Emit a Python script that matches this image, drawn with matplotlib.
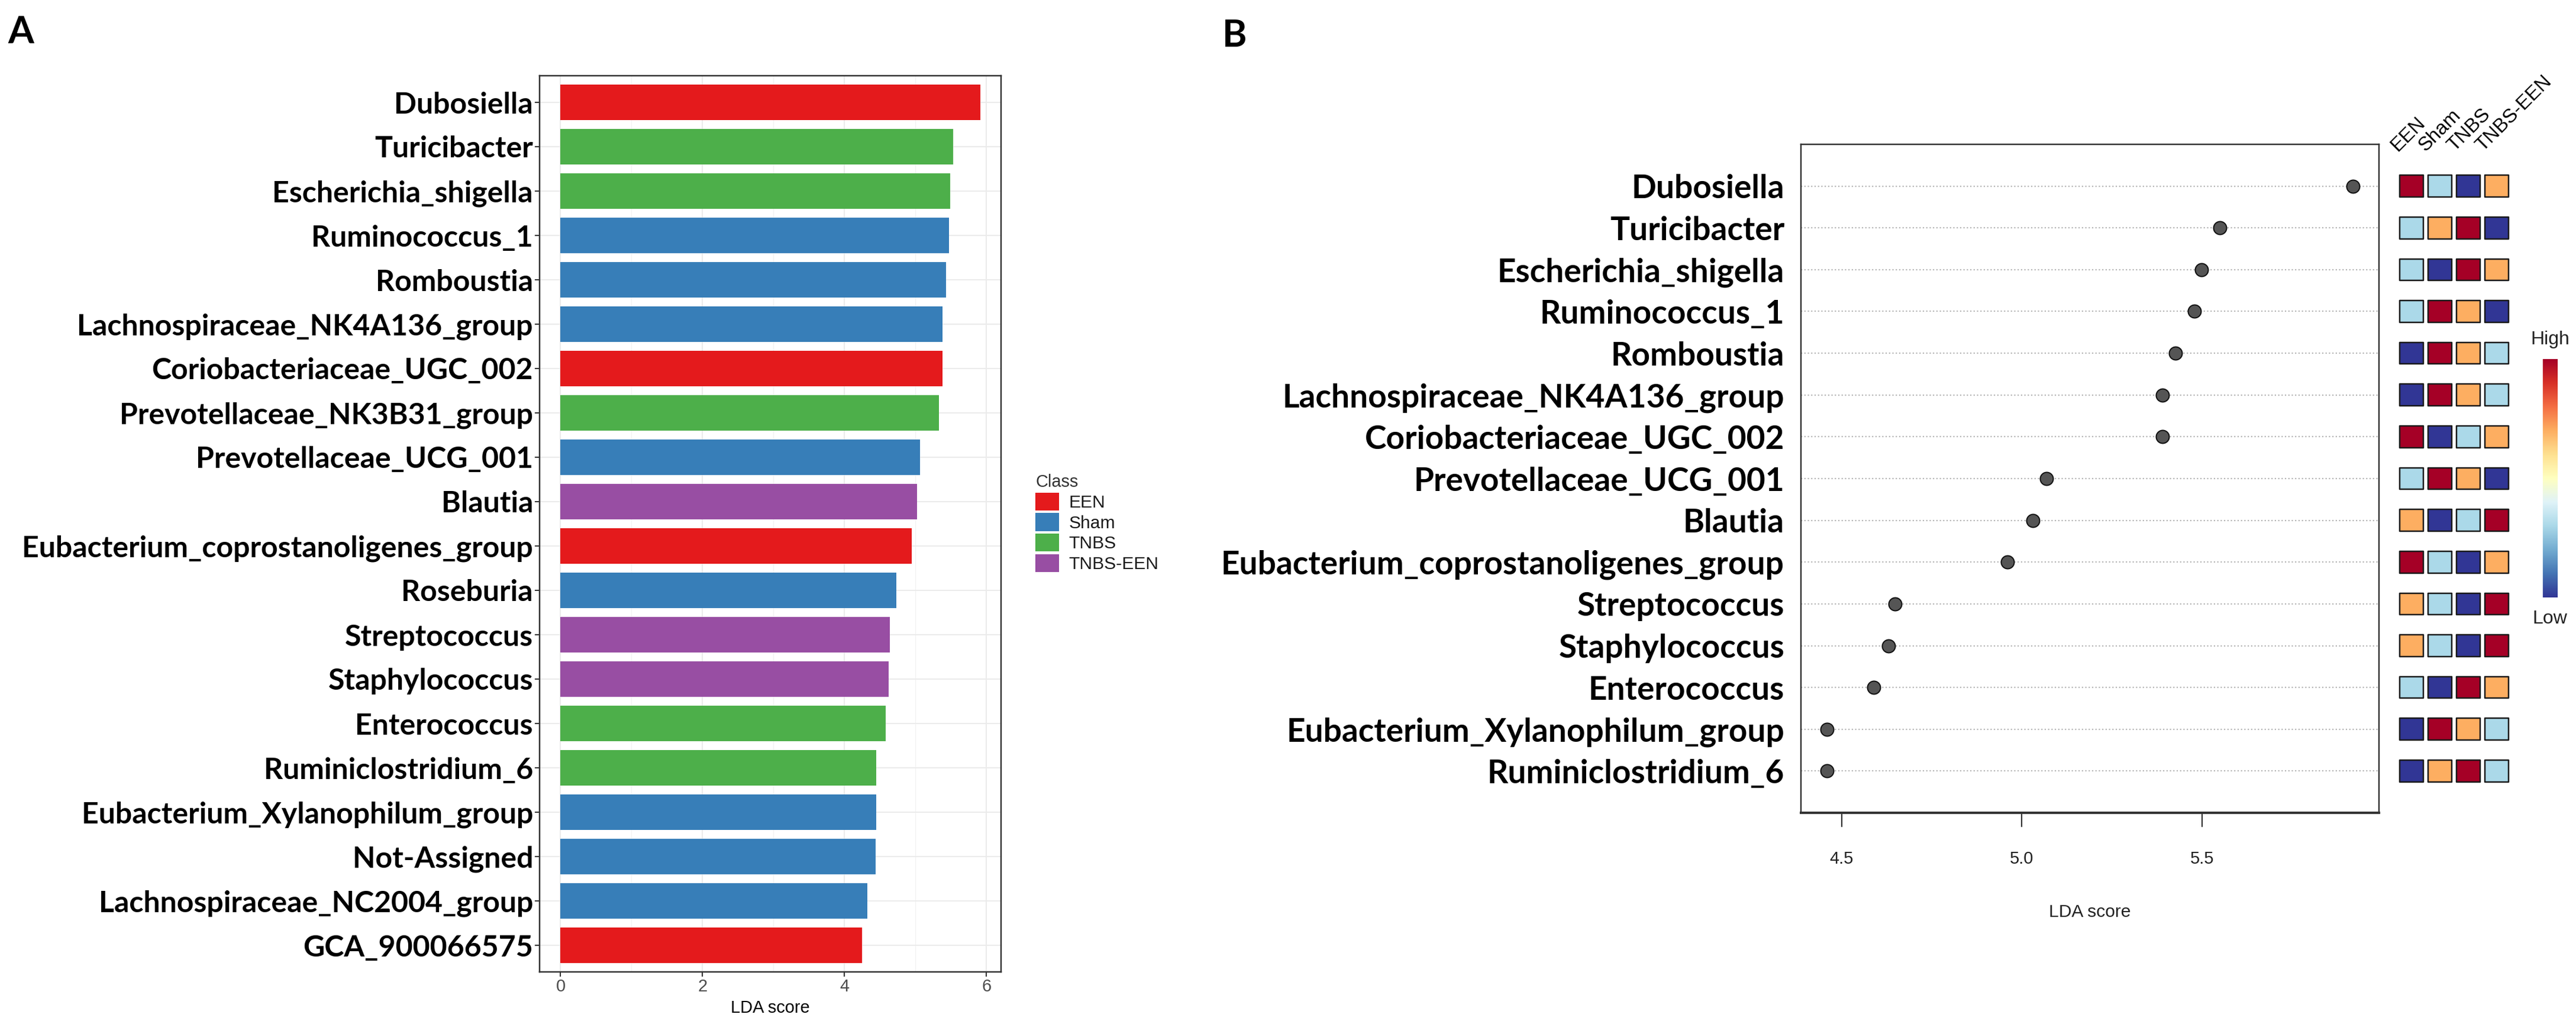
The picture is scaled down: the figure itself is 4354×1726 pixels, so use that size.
import numpy as np
import matplotlib
matplotlib.use('Agg')
import matplotlib.pyplot as plt
from matplotlib.patches import Patch, Rectangle

# ---- panel A data (LEfSe bar chart) ----
features_a = ['Dubosiella', 'Turicibacter', 'Escherichia_shigella', 'Ruminococcus_1',
              'Romboustia', 'Lachnospiraceae_NK4A136_group', 'Coriobacteriaceae_UGC_002',
              'Prevotellaceae_NK3B31_group', 'Prevotellaceae_UCG_001', 'Blautia',
              'Eubacterium_coprostanoligenes_group', 'Roseburia', 'Streptococcus',
              'Staphylococcus', 'Enterococcus', 'Ruminiclostridium_6',
              'Eubacterium_Xylanophilum_group', 'Not-Assigned',
              'Lachnospiraceae_NC2004_group', 'GCA_900066575']
lda_a = [5.91, 5.53, 5.49, 5.47, 5.43, 5.38, 5.38, 5.33, 5.06, 5.02,
         4.95, 4.73, 4.64, 4.62, 4.58, 4.45, 4.45, 4.44, 4.32, 4.25]
class_a = ['EEN', 'TNBS', 'TNBS', 'Sham', 'Sham', 'Sham', 'EEN', 'TNBS', 'Sham', 'TNBS-EEN',
           'EEN', 'Sham', 'TNBS-EEN', 'TNBS-EEN', 'TNBS', 'TNBS', 'Sham', 'Sham', 'Sham', 'EEN']
classes = ['EEN', 'Sham', 'TNBS', 'TNBS-EEN']
class_colors = ['#E41A1C', '#377EB8', '#4DAF4A', '#984EA3']
xticks_a = [0, 2, 4, 6]

# ---- panel B data (dot plot + group heatmap) ----
features_b = ['Dubosiella', 'Turicibacter', 'Escherichia_shigella', 'Ruminococcus_1',
              'Romboustia', 'Lachnospiraceae_NK4A136_group', 'Coriobacteriaceae_UGC_002',
              'Prevotellaceae_UCG_001', 'Blautia', 'Eubacterium_coprostanoligenes_group',
              'Streptococcus', 'Staphylococcus', 'Enterococcus',
              'Eubacterium_Xylanophilum_group', 'Ruminiclostridium_6']
lda_b = [5.918, 5.550, 5.498, 5.479, 5.426, 5.390, 5.390, 5.069, 5.030, 4.960,
         4.648, 4.630, 4.589, 4.460, 4.460]
# relative abundance rank per group (1 = low, 4 = high), columns = classes
rank_b = [[4, 2, 1, 3], [2, 3, 4, 1], [2, 1, 4, 3], [2, 4, 3, 1], [1, 4, 3, 2],
          [1, 4, 3, 2], [4, 1, 2, 3], [2, 4, 3, 1], [3, 1, 2, 4], [4, 2, 1, 3],
          [3, 2, 1, 4], [3, 2, 1, 4], [2, 1, 4, 3], [1, 4, 3, 2], [1, 3, 4, 2]]
heat_colors = ['#313695', '#ABD9E9', '#FDAE61', '#A50026']
xticks_b = [4.5, 5.0, 5.5]

W, H = 4354, 1726
PT = 0.72  # px -> pt at dpi 100
BOLD = ['Lato', 'DejaVu Sans']
PLAIN = ['Liberation Sans', 'DejaVu Sans']

fig = plt.figure(figsize=(W / 100, H / 100), dpi=100)
fig.patch.set_facecolor('white')


def px_axes(left, top, right, bottom):
    return fig.add_axes([left / W, 1 - bottom / H, (right - left) / W, (bottom - top) / H])


# ================= panel A =================
ax = px_axes(912, 128, 1692, 1643)
ya = np.arange(len(features_a))
cmap_a = dict(zip(classes, class_colors))
ax.barh(ya, lda_a, height=0.8, color=[cmap_a[c] for c in class_a], zorder=3)
pad_a = 0.05 * max(lda_a)
ax.set_xlim(-pad_a, max(lda_a) + pad_a)
ax.set_ylim(len(features_a) - 0.4, -0.6)
ax.set_xticks(xticks_a)
ax.set_xticks([1, 3, 5], minor=True)
ax.set_yticks(ya)
ax.set_yticklabels(features_a, fontsize=50 * PT, fontweight='bold', family=BOLD)
ax.set_xticklabels([str(t) for t in xticks_a], fontsize=29 * PT, color='#4D4D4D', family=PLAIN)
ax.tick_params(axis='both', which='major', length=8 * PT, width=2 * PT, color='#333333', pad=3 * PT)
ax.tick_params(axis='x', which='minor', length=0)
ax.grid(True, which='major', color='#EBEBEB', linewidth=2 * PT, zorder=0)
ax.grid(True, which='minor', axis='x', color='#F2F2F2', linewidth=1.2 * PT, zorder=0)
ax.set_axisbelow(True)
for s in ax.spines.values():
    s.set_color('#333333')
    s.set_linewidth(2.5 * PT)
ax.set_xlabel('LDA score', fontsize=29 * PT, family=PLAIN, color='black', labelpad=8 * PT)

handles = [Patch(facecolor=c, edgecolor='none') for c in class_colors]
leg = fig.legend(handles, classes, title='Class', loc='upper left',
                 bbox_to_anchor=(1735 / W, 1 - 786 / H), frameon=False, borderpad=0,
                 prop={'family': PLAIN, 'size': 30 * PT}, title_fontsize=29 * PT,
                 handlelength=1.33, handleheight=1.17, labelspacing=0.12,
                 handletextpad=0.55, alignment='left')
leg.get_title().set_color('#333333')
leg.get_title().set_family(PLAIN)
for t in leg.get_texts():
    t.set_color('#1A1A1A')

fig.text(35 / W, 1 - 55 / H, 'A', fontsize=63 * PT, fontweight='bold', family=BOLD,
         ha='center', va='center')

# ================= panel B =================
bx = px_axes(3044, 244, 4021, 1374)
yb = np.arange(len(features_b))
for y in yb:
    bx.axhline(y, color='#B5B5B5', linewidth=2.2 * PT, linestyle=(0, (1, 1.6)), zorder=1)
bx.scatter(lda_b, yb, s=(22 * PT) ** 2, color='#555555', edgecolor='#111111',
           linewidth=2 * PT, zorder=3)
pad_b = 0.05 * (max(lda_b) - min(lda_b))
bx.set_xlim(min(lda_b) - pad_b, max(lda_b) + pad_b)
bx.set_ylim(len(features_b), -1)
bx.set_yticks(yb)
bx.set_yticklabels(features_b, fontsize=55 * PT, fontweight='bold', family=BOLD)
bx.tick_params(axis='y', length=0, pad=28 * PT)
bx.set_xticks(xticks_b)
bx.set_xticklabels(['%.1f' % t for t in xticks_b], fontsize=29 * PT, family=PLAIN, color='#222222')
bx.tick_params(axis='x', length=24 * PT, width=2 * PT, color='#222222', pad=40 * PT)
for s in bx.spines.values():
    s.set_color('#333333')
    s.set_linewidth(2.5 * PT)
bx.spines['bottom'].set_linewidth(4 * PT)
bx.set_xlabel('LDA score', fontsize=30 * PT, family=PLAIN, color='#222222', labelpad=62 * PT)

fig.text(2087 / W, 1 - 61 / H, 'B', fontsize=63 * PT, fontweight='bold', family=BOLD,
         ha='center', va='center')

# heatmap of group ranks
hx = px_axes(4052, 244, 4244, 1374)
hx.set_xlim(-0.5, len(classes) - 0.5)
hx.set_ylim(len(features_b), -1)
hx.axis('off')
for i, row in enumerate(rank_b):
    for j, r in enumerate(row):
        hx.add_patch(Rectangle((j - 0.42, i - 0.26), 0.84, 0.52, facecolor=heat_colors[r - 1],
                               edgecolor='#1A1A1A', linewidth=2.5 * PT, joinstyle='round'))
for j, name in enumerate(classes):
    hx.text(j - 0.4, -0.75, name, rotation=45, ha='left', va='bottom', rotation_mode='anchor',
            fontsize=33 * PT, family=PLAIN, color='black')

# colour key
cx = px_axes(4298, 607, 4323, 1010)
grad = np.linspace(0, 1, 256).reshape(-1, 1)
cx.imshow(grad, aspect='auto', cmap='RdYlBu_r', origin='lower')
cx.axis('off')
fig.text(4310 / W, 1 - 574 / H, 'High', fontsize=32 * PT, family=PLAIN, ha='center', va='center',
         color='#222222')
fig.text(4310 / W, 1 - 1046 / H, 'Low', fontsize=32 * PT, family=PLAIN, ha='center', va='center',
         color='#222222')

fig.savefig('out.png', dpi=100, facecolor='white')
